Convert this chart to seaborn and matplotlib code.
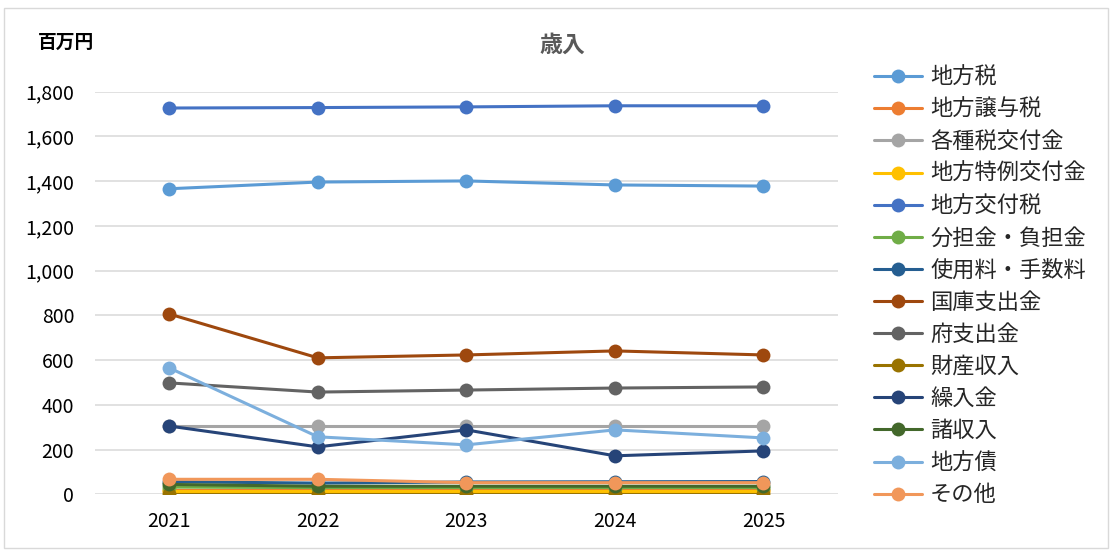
import matplotlib
matplotlib.use("Agg")
import matplotlib.pyplot as plt
import seaborn as sns
import pandas as pd
from matplotlib.patches import Rectangle
from matplotlib.lines import Line2D

years = ["2021", "2022", "2023", "2024", "2025"]
series_names = ["地方税", "地方譲与税", "各種税交付金", "地方特例交付金", "地方交付税",
                "分担金・負担金", "使用料・手数料", "国庫支出金", "府支出金", "財産収入",
                "繰入金", "諸収入", "地方債", "その他"]
chiho_zei = [1366, 1396, 1401, 1383, 1378]
joyo_zei = [20, 20, 20, 20, 20]
kakushu_kofukin = [305, 305, 305, 305, 305]
tokurei_kofukin = [14, 14, 14, 14, 14]
kofu_zei = [1727, 1729, 1732, 1737, 1737]
buntankin = [32, 30, 30, 30, 30]
shiyoryo = [56, 50, 55, 56, 57]
kokko = [806, 610, 623, 641, 623]
fu_shishutsu = [498, 457, 466, 475, 480]
zaisan = [3, 3, 3, 3, 3]
kurireikin = [305, 212, 288, 172, 194]
sho_shunyu = [44, 36, 36, 36, 36]
chiho_sai = [565, 257, 221, 288, 252]
sonota = [67, 67, 52, 52, 52]
values = [chiho_zei, joyo_zei, kakushu_kofukin, tokurei_kofukin, kofu_zei, buntankin,
          shiyoryo, kokko, fu_shishutsu, zaisan, kurireikin, sho_shunyu, chiho_sai, sonota]
colors = ["#5B9BD5", "#ED7D31", "#A5A5A5", "#FFC000", "#4472C4", "#70AD47", "#255E91",
          "#9E480E", "#636363", "#997300", "#264478", "#43682B", "#7CAFDD", "#F1975A"]
yticks = [0, 200, 400, 600, 800, 1000, 1200, 1400, 1600, 1800]

rows = []
for name, vals in zip(series_names, values):
    for i, (y, v) in enumerate(zip(years, vals)):
        rows.append({"年度": y, "idx": i, "系列": name, "値": v})
df = pd.DataFrame(rows)

sns.set_theme(style="white")
plt.rcParams['font.family'] = ['Noto Sans CJK JP', 'DejaVu Sans']

fig = plt.figure(figsize=(11.12, 5.5), dpi=100)
ax = fig.add_axes([0.0854, 0.1013, 0.668, 0.732])

palette = dict(zip(series_names, colors))
sns.lineplot(data=df, x="idx", y="値", hue="系列", hue_order=series_names, palette=palette,
             marker="o", markersize=10, markeredgewidth=0, linewidth=2.2, ax=ax,
             legend=False, zorder=3)

ax.set_xlim(-0.5, 4.5)
ax.set_ylim(0, 1800)
ax.set_xticks(range(len(years)))
ax.set_xticklabels(years)
ax.set_yticks(yticks)
ax.set_yticklabels([f"{v:,}" for v in yticks])
ax.tick_params(axis="both", labelsize=14, colors="#000000", length=0)
ax.tick_params(axis="y", pad=15)
ax.tick_params(axis="x", pad=12)
ax.grid(axis="y", color="#D9D9D9", linewidth=1.1)
ax.set_axisbelow(True)
for s in ax.spines.values():
    s.set_visible(False)
ax.set_xlabel("")
ax.set_ylabel("")

fig.text(0.506, 0.918, "歳入", ha="center", va="center", fontsize=16.5, color="#595959",
         fontweight="bold")
fig.text(0.059, 0.923, "百万円", ha="center", va="center", fontsize=13.5, color="#000000",
         fontweight="bold")

handles = [Line2D([0], [0], color=c, linewidth=2.2, marker="o", markersize=10,
                  markeredgewidth=0) for c in colors]
fig.legend(handles, series_names, loc="upper left", bbox_to_anchor=(0.786, 0.880),
           frameon=False, fontsize=16, handlelength=2.16, handletextpad=0.36,
           labelspacing=0.41, borderaxespad=0, borderpad=0)

fig.patches.append(Rectangle((0.004, 0.003), 0.992, 0.982, transform=fig.transFigure,
                             fill=False, edgecolor="#D9D9D9", linewidth=1))

fig.savefig("out.png", dpi=100)
